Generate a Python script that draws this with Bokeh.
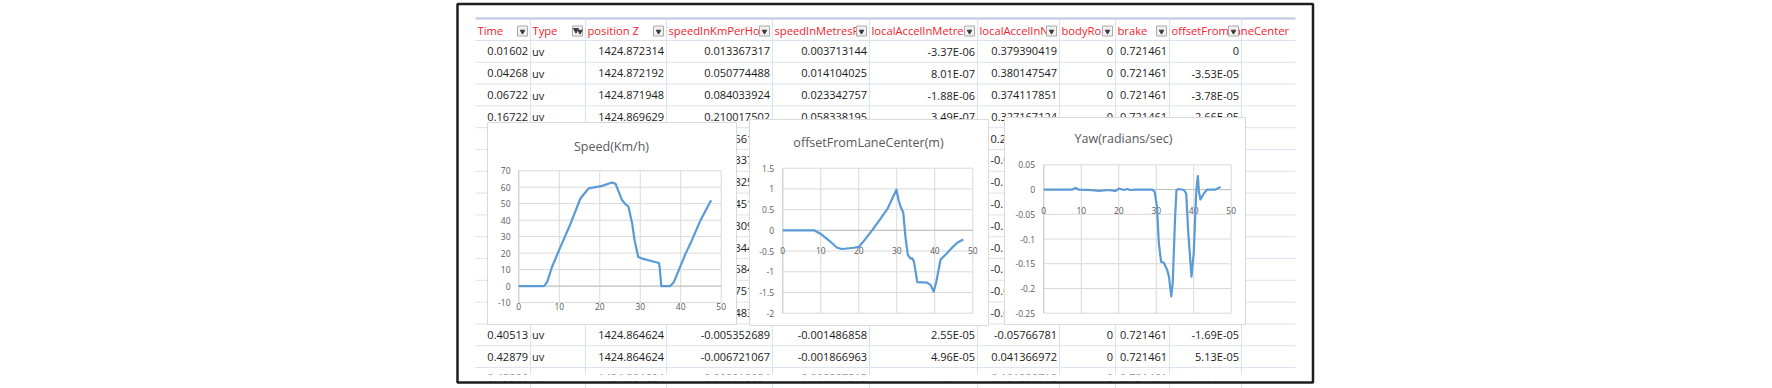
from math import pi
from bokeh.plotting import figure
from bokeh.models import Range1d
from bokeh.embed import file_html
from bokeh.resources import INLINE
from bokeh.core.properties import value

# ---------------- data ----------------
headers = ["Time", "Type", "position Z", "speedInKmPerHou", "speedInMetresP",
           "localAccelInMetre", "localAccelInN", "bodyRo", "brake", "offsetFromLaneCenter"]

table_rows = [1, 2, 3, 4, 14, 15, 16]
col_time = ["0.01602", "0.04268", "0.06722", "0.16722", "0.40513", "0.42879", "0.45286"]
col_type = ["uv", "uv", "uv", "uv", "uv", "uv", "uv"]
col_posz = ["1424.872314", "1424.872192", "1424.871948", "1424.869629", "1424.864624", "1424.864624", "1424.864624"]
col_speedkm = ["0.013367317", "0.050774488", "0.084033924", "0.210017502", "-0.005352689", "-0.006721067", "-0.008019054"]
col_speedm = ["0.003713144", "0.014104025", "0.023342757", "0.058338195", "-0.001486858", "-0.001866963", "-0.002227515"]
col_accm = ["-3.37E-06", "8.01E-07", "-1.88E-06", "3.49E-07", "2.55E-05", "4.96E-05", "7.60E-05"]
col_accn = ["0.379390419", "0.380147547", "0.374117851", "0.327167124", "-0.05766781", "0.041366972", "0.101388713"]
col_body = ["0", "0", "0", "0", "0", "0", "0"]
col_brake = ["0.721461", "0.721461", "0.721461", "0.721461", "0.721461", "0.721461", "0.721461"]
col_offset = ["0", "-3.53E-05", "-3.78E-05", "2.66E-05", "-1.69E-05", "5.13E-05", "8.43E-05"]

# fragments of rows 5..13 that peek out between the charts
frag_rows = [5, 6, 7, 8, 9, 10, 11, 12, 13]
frag_speedkm = ["561", "337", "825", "451", "309", "344", "584", "751", "483"]
frag_accn = ["0.2", "-0.0", "-0.1", "-0.1", "-0.2", "-0.1", "-0.1", "-0.0", "-0.0"]

# chart 1: Speed(Km/h)
speed_t = [0, 6.2, 7.0, 8.2, 10.3, 12.8, 15.2, 16.9, 17.3, 20.6, 23.0, 23.9, 25.5, 26.3, 27.1,
           28.0, 28.6, 29.5, 30.5, 34.6, 34.8, 35.2, 37.4, 38.3, 41.2, 42.4, 44.9, 47.3, 47.6]
speed_v = [0, 0, 2.4, 11.6, 23.8, 38, 53, 58.3, 59.3, 60.8, 62.8, 62, 52.2, 49.8, 48.2,
           38, 27.8, 17.7, 16.7, 14, 11.6, 0, 0, 2.4, 19.7, 25.8, 40, 51.2, 52]
speed_yticks = [70, 60, 50, 40, 30, 20, 10, 0, -10]
speed_ylabels = ["70", "60", "50", "40", "30", "20", "10", "0", "-10"]

# chart 2: offsetFromLaneCenter(m)
off_t = [0, 8.2, 9.9, 12.1, 14.3, 15.6, 18.7, 20.0, 21.3, 23.5, 25.3, 27.5, 29.9, 30.5, 31.0,
         31.7, 32.3, 32.9, 33.6, 34.0, 34.5, 35.4, 38.0, 38.9, 39.7, 40.4, 41.5, 42.8, 44.1, 45.9, 47.5]
off_v = [0, 0, -0.08, -0.24, -0.42, -0.45, -0.42, -0.40, -0.26, 0, 0.23, 0.51, 0.98, 0.72, 0.57,
         0.43, -0.18, -0.59, -0.68, -0.67, -0.75, -1.25, -1.26, -1.32, -1.48, -1.24, -0.71, -0.59, -0.46, -0.30, -0.22]
off_yticks = [1.5, 1, 0.5, 0, -0.5, -1, -1.5, -2]
off_ylabels = ["1.5", "1", "0.5", "0", "-0.5", "-1", "-1.5", "-2"]

# chart 3: Yaw(radians/sec)
yaw_t = [0, 7.6, 8.5, 9.3, 12.9, 14.7, 17.3, 19.1, 20.0, 21.4, 22.2, 23.1, 24.5, 28.9, 29.6,
         30.2, 30.7, 31.3, 32.0, 32.9, 33.4, 34.0, 34.4, 35.0, 35.4, 36.0, 37.4, 38.0, 38.5,
         39.4, 40.0, 40.5, 40.7, 41.1, 41.4, 41.8, 42.7, 43.6, 45.8, 47.2]
yaw_v = [0, 0, 0.0034, 0, -0.0013, -0.003, -0.001, -0.003, 0.002, -0.001, 0.001, -0.001, 0, 0, -0.005,
         -0.035, -0.109, -0.146, -0.148, -0.162, -0.176, -0.216, -0.189, -0.062, -0.001, 0.001, -0.001, -0.008, -0.082,
         -0.176, -0.129, -0.035, -0.001, 0.027, -0.005, -0.02, -0.008, 0, 0, 0.0054]
yaw_yticks = [0.05, 0, -0.05, -0.1, -0.15, -0.2, -0.25]
yaw_ylabels = ["0.05", "0", "-0.05", "-0.1", "-0.15", "-0.2", "-0.25"]

x_ticks = [0, 10, 20, 30, 40, 50]
x_labels = ["0", "10", "20", "30", "40", "50"]

# ---------------- layout / style ----------------
W, H = 1772, 388
FONT = value("Open Sans")
GRID_T = "#dbe3ee"
RED = "#f5222d"
LINE_BLUE = "#5b9bd5"
GRAY_TXT = "#595959"

p = figure(width=W, height=H, x_range=Range1d(0, W), y_range=Range1d(H, 0),
           output_backend="svg", toolbar_location=None, min_border=0,
           x_axis_type=None, y_axis_type=None, outline_line_color=None,
           background_fill_color="white", border_fill_color="white", title=None)

col_edges = [475, 530, 585, 666, 772, 869, 977, 1059, 1115, 1169, 1241, 1295]
head_top, head_bot, row_h = 18, 40, 21.8


def row_c(r):
    return head_bot + (r - 0.5) * row_h


# grid lines of the sheet
hy = [head_bot + k * row_h for k in range(0, 17)]
p.segment(x0=[col_edges[0]] * len(hy), x1=[col_edges[-1]] * len(hy), y0=hy, y1=hy,
          line_color=GRID_T, line_width=1)
p.segment(x0=[col_edges[0]], x1=[col_edges[-1]], y0=[head_top], y1=[head_top],
          line_color="#b8c8de", line_width=2)
vx = col_edges[1:-1]
p.segment(x0=vx, x1=vx, y0=[head_top] * len(vx), y1=[H] * len(vx), line_color=GRID_T, line_width=1)

# header texts
p.text(x=[e + 2 for e in col_edges[:10]], y=[30] * 10, text=headers, text_color=RED,
       text_font=FONT, text_font_size="11.2px", text_align="left", text_baseline="middle")

# filter buttons
bx_r = [e - 3 for e in col_edges[1:11]]
p.quad(left=[b - 10 for b in bx_r], right=bx_r, top=[25.5] * 10, bottom=[35.5] * 10,
       fill_color="#f2f2f2", line_color="#a9a9a9", line_width=1)
arrow_x = [b - 5 for b in bx_r]
arrow_x[1] = bx_r[1] - 2.5
p.scatter(x=arrow_x, y=[31] * 10, marker="inverted_triangle", size=4.5, color="#3a3a3a")
p.scatter(x=[bx_r[1] - 6.5], y=[29.5], marker="inverted_triangle", size=5, color="#3a3a3a")
p.segment(x0=[bx_r[1] - 6.5], x1=[bx_r[1] - 6.5], y0=[30], y1=[33], line_color="#3a3a3a", line_width=1)

# cell texts
ys = [row_c(r) for r in table_rows]
cell_style = dict(text_font=FONT, text_font_size="11px", text_color="#1a1a1a", text_baseline="middle")
right_cols = [(0, col_time), (2, col_posz), (3, col_speedkm), (4, col_speedm), (5, col_accm),
              (6, col_accn), (7, col_body), (8, col_brake), (9, col_offset)]
for ci, vals in right_cols:
    p.text(x=[col_edges[ci + 1] - 2.5] * len(vals), y=ys, text=vals, text_align="right", **cell_style)
p.text(x=[col_edges[1] + 1.5] * len(col_type), y=ys, text=col_type, text_align="left", **cell_style)

fys = [row_c(r) for r in frag_rows]
p.text(x=[734] * len(frag_speedkm), y=fys, text=frag_speedkm, text_align="left", **cell_style)
p.text(x=[990] * len(frag_accn), y=fys, text=frag_accn, text_align="left", **cell_style)


# ---------------- charts ----------------
def xr(px0, px1, v0, v1):
    k = (v1 - v0) / (px1 - px0)
    s = v0 - px0 * k
    return Range1d(s, s + W * k)


def yr(py_top, py_bot, v_top, v_bot):
    k = (v_top - v_bot) / (py_bot - py_top)
    e = v_top + py_top * k
    return Range1d(e - H * k, e)


charts = [
    dict(name="spd", box=(487, 736, 122, 324), px=(518.3, 720.7), py=(170.2, 302.1), yv=(70, -10),
         title="Speed(Km/h)", tpos=(611, 146), t=speed_t, v=speed_v, yt=speed_yticks, yl=speed_ylabels,
         ylx=510, xly=306),
    dict(name="off", box=(749, 988, 119, 325), px=(782.3, 972.3), py=(167.7, 312.7), yv=(1.5, -2),
         title="offsetFromLaneCenter(m)", tpos=(868, 141.5), t=off_t, v=off_v, yt=off_yticks, yl=off_ylabels,
         ylx=773.5, xly=250),
    dict(name="yaw", box=(1004, 1245, 117, 324), px=(1043.3, 1230.7), py=(164.3, 312.7), yv=(0.05, -0.25),
         title="Yaw(radians/sec)", tpos=(1123, 138), t=yaw_t, v=yaw_v, yt=yaw_yticks, yl=yaw_ylabels,
         ylx=1034.5, xly=210),
]

for c in charts:
    xn, yn = c["name"] + "_x", c["name"] + "_y"
    p.extra_x_ranges[xn] = xr(c["px"][0], c["px"][1], 0, 50)
    p.extra_y_ranges[yn] = yr(c["py"][0], c["py"][1], c["yv"][0], c["yv"][1])
    l, r, t, b = c["box"]
    p.quad(left=[l], right=[r], top=[t], bottom=[b], fill_color="white", line_color="#d9d9d9", line_width=1)
    p.text(x=[c["tpos"][0]], y=[c["tpos"][1]], text=[c["title"]], text_font=FONT, text_font_size="12.5px",
           text_color=GRAY_TXT, text_align="center", text_baseline="middle")
    ymin, ymax = min(c["yt"]), max(c["yt"])
    # horizontal gridlines
    p.segment(x0=[0] * len(c["yt"]), x1=[50] * len(c["yt"]), y0=c["yt"], y1=c["yt"],
              line_color="#d9d9d9", line_width=1, x_range_name=xn, y_range_name=yn)
    # vertical gridlines
    p.segment(x0=x_ticks[1:], x1=x_ticks[1:], y0=[ymin] * 5, y1=[ymax] * 5,
              line_color="#d9d9d9", line_width=1, x_range_name=xn, y_range_name=yn)
    # axes
    p.segment(x0=[0, 0], x1=[50, 0], y0=[0, ymin], y1=[0, ymax],
              line_color="#bfbfbf", line_width=1, x_range_name=xn, y_range_name=yn)
    # tick labels
    p.text(x=[c["ylx"]] * len(c["yl"]), y=c["yt"], text=c["yl"], text_font=FONT, text_font_size="8.5px",
           text_color=GRAY_TXT, text_align="right", text_baseline="middle", y_range_name=yn)
    p.text(x=x_ticks, y=[c["xly"]] * len(x_ticks), text=x_labels, text_font=FONT, text_font_size="8.5px",
           text_color=GRAY_TXT, text_align="center", text_baseline="middle", x_range_name=xn)
    # data line
    p.line(x=c["t"], y=c["v"], line_color=LINE_BLUE, line_width=2.2, line_join="round",
           x_range_name=xn, y_range_name=yn)

# crop of the sheet at the bottom and outer frame
p.quad(left=[458], right=[1311], top=[374], bottom=[381], fill_color="white", line_color=None)
p.quad(left=[457], right=[1312.5], top=[3.5], bottom=[382], fill_color=None, line_color="#1e1e1e", line_width=2.5)

open("out.html", "w").write(file_html(p, INLINE))
